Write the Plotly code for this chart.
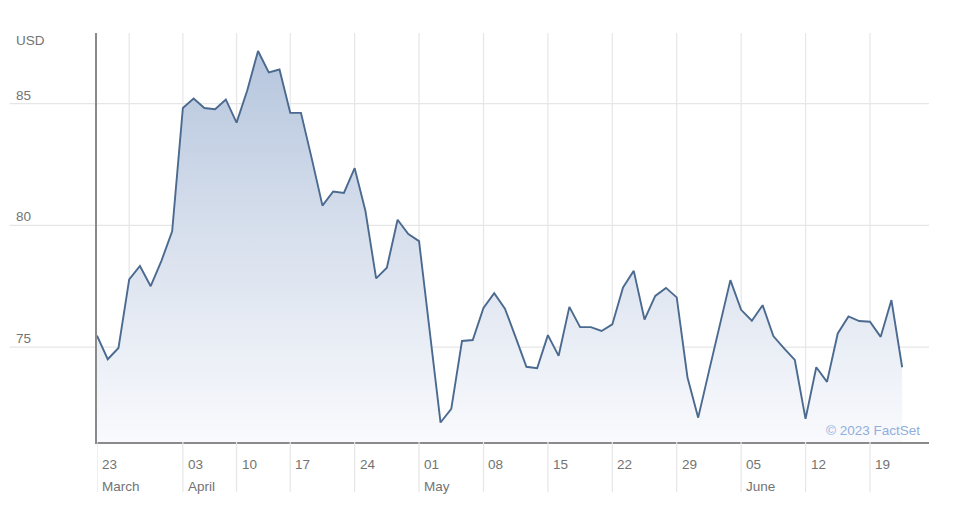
"""
Price history chart (USD), March - June 2023, FactSet style area chart.

The x axis is a trading-session index; weekly gridlines and the
day / month labels are placed on the sessions they belong to.
"""

import plotly.graph_objects as go

# closing prices, one per session
prices = [
    75.47, 74.50, 74.96, 77.78, 78.33, 77.50, 78.54, 79.75, 84.82, 85.21,
    84.82, 84.77, 85.17, 84.22, 85.55, 87.16, 86.28, 86.40, 84.62, 84.62,
    82.75, 80.81, 81.39, 81.33, 82.35, 80.60, 77.82, 78.26, 80.23, 79.64,
    79.35, 75.63, 71.90, 72.46, 75.25, 75.29, 76.61, 77.21, 76.58, 75.40,
    74.19, 74.13, 75.49, 74.64, 76.65, 75.82, 75.82, 75.66, 75.93, 77.45,
    78.13, 76.13, 77.10, 77.43, 77.04, 73.76, 72.10, 74.00, 75.90, 77.75,
    76.53, 76.08, 76.72, 75.45, 74.95, 74.47, 72.05, 74.17, 73.57, 75.56,
    76.26, 76.07, 76.04, 75.42, 76.93, 74.17,
]
sessions = list(range(len(prices)))

# weekly gridlines (session index)
grid_sessions = [3, 8, 13, 18, 24, 30, 36, 42, 48, 54, 60, 66, 72]

# x labels: session, day, month
label_sessions = [0, 8, 13, 18, 24, 30, 36, 42, 48, 54, 60, 66, 72]
label_days = ["23", "03", "10", "17", "24", "01", "08", "15", "22", "29", "05", "12", "19"]
label_months = ["March", "April", "", "", "", "May", "", "", "", "", "June", "", ""]

y_ticks = [75, 80, 85]
y_range = [71.1, 87.9]
x_range = [0, 77.5]

FONT = "Liberation Sans, Arial, Helvetica, sans-serif"
LABEL_COLOR = "#737373"
GRID_COLOR = "#e6e6e6"
FONT_SIZE = 13.5

fig = go.Figure()

fig.add_trace(
    go.Scatter(
        x=sessions,
        y=prices,
        mode="lines",
        line=dict(color="#4b6a8f", width=1.9),
        fill="tozeroy",
        fillgradient=dict(
            type="vertical",
            colorscale=[[0, "#f9fafd"], [0.5, "#d8e0ed"], [1, "#b2c3dc"]],
            start=y_range[0],
            stop=y_range[1],
        ),
        hoverinfo="x+y",
        showlegend=False,
    )
)

shapes = []
annotations = []

# horizontal gridlines run out under the y labels
for v in y_ticks:
    shapes.append(dict(
        type="line", xref="paper", yref="y", x0=-0.105, x1=1, y0=v, y1=v,
        line=dict(color=GRID_COLOR, width=1.2), layer="below",
    ))
    annotations.append(dict(
        xref="paper", yref="y", x=-0.1, y=v, text=str(v), showarrow=False,
        xanchor="left", yanchor="bottom", yshift=-1,
        font=dict(family=FONT, size=FONT_SIZE, color=LABEL_COLOR),
    ))

# weekly gridlines inside the plot
for s in grid_sessions:
    shapes.append(dict(
        type="line", xref="x", yref="paper", x0=s, x1=s, y0=0, y1=1,
        line=dict(color=GRID_COLOR, width=1.2), layer="below",
    ))

# label gridlines carry on into the label band
for s, day, month in zip(label_sessions, label_days, label_months):
    shapes.append(dict(
        type="line", xref="x", yref="paper", x0=s, x1=s, y0=-0.122, y1=0,
        line=dict(color=GRID_COLOR, width=1.2),
    ))
    annotations.append(dict(
        xref="x", yref="paper", x=s, y=-0.055, text=day, showarrow=False,
        xanchor="left", yanchor="middle", xshift=3,
        font=dict(family=FONT, size=FONT_SIZE, color=LABEL_COLOR),
    ))
    if month:
        annotations.append(dict(
            xref="x", yref="paper", x=s, y=-0.108, text=month, showarrow=False,
            xanchor="left", yanchor="middle", xshift=3,
            font=dict(family=FONT, size=FONT_SIZE, color=LABEL_COLOR),
        ))

annotations.append(dict(
    xref="paper", yref="paper", x=-0.1, y=0.981, text="USD", showarrow=False,
    xanchor="left", yanchor="middle",
    font=dict(family=FONT, size=FONT_SIZE, color=LABEL_COLOR),
))
annotations.append(dict(
    xref="paper", yref="paper", x=0.992, y=0.027, text="© 2023 FactSet",
    showarrow=False, xanchor="right", yanchor="middle",
    font=dict(family=FONT, size=FONT_SIZE, color="#90aede"),
))

# remains of the tab bar above the chart
shapes.append(dict(
    type="line", xref="paper", yref="paper", x0=0.214, x1=1.013, y0=1.079, y1=1.079,
    line=dict(color="#dddddd", width=1.5),
))
shapes.append(dict(
    type="rect", xref="paper", yref="paper", x0=0.350, x1=0.417, y0=1.076, y1=1.081,
    line=dict(width=0), fillcolor="#1c2f4c",
))

# the page body keeps an 8px margin, so the figure is 8px smaller each way
fig.update_layout(
    width=951,
    height=514,
    autosize=False,
    margin=dict(l=89, r=30, t=25, b=80),
    paper_bgcolor="white",
    plot_bgcolor="white",
    shapes=shapes,
    annotations=annotations,
    xaxis=dict(
        range=x_range,
        showgrid=False,
        zeroline=False,
        showticklabels=False,
        ticks="",
        showline=True,
        linecolor="#8a8a8a",
        linewidth=1.5,
        mirror=False,
        fixedrange=True,
    ),
    yaxis=dict(
        range=y_range,
        showgrid=False,
        zeroline=False,
        showticklabels=False,
        ticks="",
        showline=True,
        linecolor="#8a8a8a",
        linewidth=1.5,
        fixedrange=True,
    ),
)

fig.write_html("out.html")
